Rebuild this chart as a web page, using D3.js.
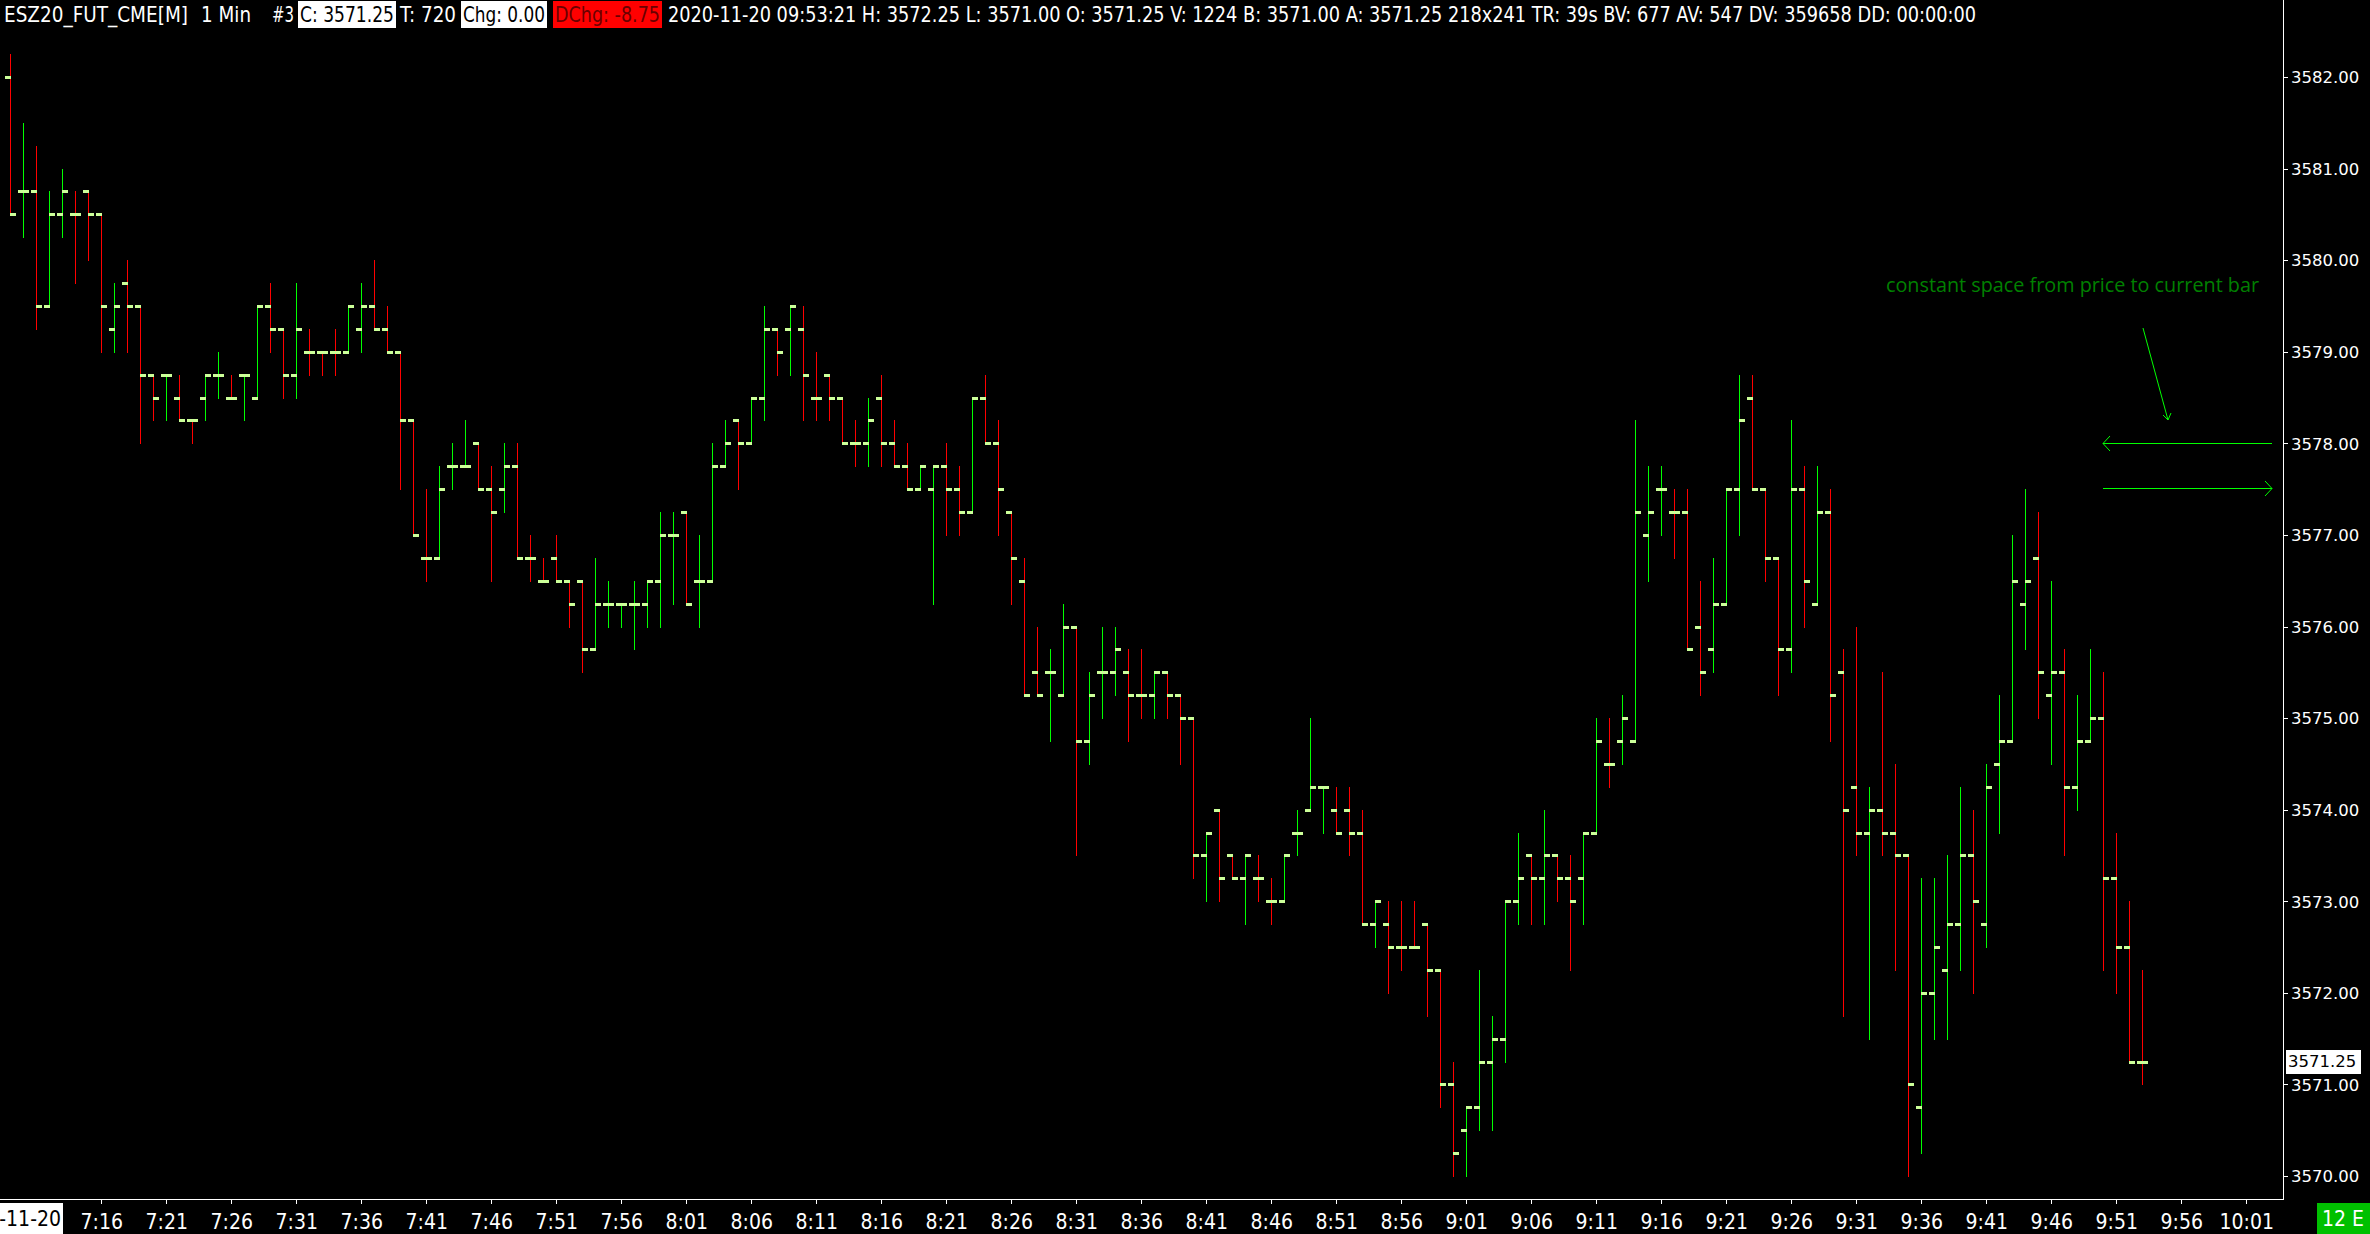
<!DOCTYPE html>
<html><head><meta charset="utf-8">
<script src="https://cdn.jsdelivr.net/npm/d3@7"></script>
<style>
html,body{margin:0;padding:0;background:#000;overflow:hidden}
svg{display:block}
</style></head><body>
<svg id="c" width="2370" height="1234"></svg>
<script>
// ---- data ----
const startTime = "2020-11-20T07:09:00";   // first bar, one bar per minute
const opens = [
3582.00,3580.75,3580.75,3579.50,3580.50,3580.50,3580.75,3580.50,3579.25,3579.75,
3579.50,3578.75,3578.75,3578.50,3578.25,3578.50,3578.75,3578.50,3578.75,3578.50,
3579.50,3579.25,3578.75,3579.00,3579.00,3579.00,3579.00,3579.25,3579.50,3579.25,
3579.00,3578.25,3576.75,3576.75,3577.75,3577.75,3578.00,3577.50,3577.50,3577.75,
3576.75,3576.50,3576.75,3576.50,3576.50,3575.75,3576.25,3576.25,3576.25,3576.25,
3576.50,3577.00,3577.25,3576.50,3576.50,3577.75,3578.25,3578.00,3578.50,3579.25,
3579.25,3579.25,3578.50,3578.75,3578.50,3578.00,3578.00,3578.50,3578.00,3577.75,
3577.50,3577.50,3577.75,3577.50,3577.25,3578.50,3578.00,3577.25,3576.50,3575.50,
3575.50,3575.25,3576.00,3574.75,3575.50,3575.50,3575.50,3575.25,3575.25,3575.50,
3575.25,3575.00,3573.50,3574.00,3573.50,3573.25,3573.25,3573.00,3573.00,3573.75,
3574.00,3574.25,3574.00,3574.00,3573.75,3572.75,3572.75,3572.50,3572.50,3572.75,
3572.25,3571.00,3570.50,3570.75,3571.25,3571.50,3573.00,3573.50,3573.25,3573.50,
3573.25,3573.25,3573.75,3574.50,3574.75,3574.75,3577.00,3577.50,3577.25,3577.25,
3576.00,3575.75,3576.25,3577.50,3578.50,3577.50,3576.75,3575.75,3577.50,3576.25,
3577.25,3575.50,3574.25,3573.75,3574.00,3573.75,3573.50,3570.75,3572.00,3572.25,
3572.75,3573.50,3572.75,3574.50,3574.75,3576.25,3576.75,3575.25,3575.50,3574.25,
3574.75,3575.00,3573.25,3572.50,3571.25];
const highs = [
3582.25,3581.50,3581.25,3580.75,3581.00,3580.75,3580.75,3580.50,3579.75,3580.00,
3579.50,3578.75,3578.75,3578.75,3578.25,3578.75,3579.00,3578.75,3578.75,3579.50,
3579.75,3579.25,3579.75,3579.25,3579.00,3579.25,3579.50,3579.75,3580.00,3579.50,
3579.00,3578.25,3577.50,3577.75,3578.00,3578.25,3578.00,3577.75,3578.00,3578.00,
3577.00,3576.75,3577.00,3576.50,3576.50,3576.75,3576.50,3576.25,3576.50,3576.50,
3577.25,3577.25,3577.25,3577.00,3578.00,3578.25,3578.25,3578.50,3579.50,3579.25,
3579.50,3579.50,3579.00,3578.75,3578.50,3578.25,3578.50,3578.75,3578.25,3578.00,
3577.75,3577.75,3578.00,3577.75,3578.50,3578.75,3578.25,3577.25,3576.75,3576.00,
3575.75,3576.25,3576.00,3575.50,3576.00,3576.00,3575.75,3575.75,3575.50,3575.50,
3575.25,3575.00,3573.75,3574.00,3573.50,3573.50,3573.50,3573.25,3573.50,3574.00,
3575.00,3574.25,3574.25,3574.25,3574.00,3573.00,3573.00,3573.00,3573.00,3572.75,
3572.25,3571.25,3570.75,3572.25,3571.75,3573.00,3573.75,3573.50,3574.00,3573.50,
3573.50,3573.75,3575.00,3575.00,3575.25,3578.25,3577.75,3577.75,3577.50,3577.50,
3576.50,3576.75,3577.50,3578.75,3578.75,3577.50,3576.75,3578.25,3577.75,3577.75,
3577.50,3575.75,3576.00,3574.25,3575.50,3574.50,3573.50,3573.25,3573.25,3573.50,
3574.25,3574.00,3574.50,3575.25,3577.00,3577.50,3577.25,3576.50,3575.75,3575.25,
3575.75,3575.50,3573.75,3573.00,3572.25];
const lows = [
3580.50,3580.25,3579.25,3579.50,3580.25,3579.75,3580.00,3579.00,3579.00,3579.00,
3578.00,3578.25,3578.25,3578.25,3578.00,3578.25,3578.50,3578.50,3578.25,3578.50,
3579.00,3578.50,3578.50,3578.75,3578.75,3578.75,3579.00,3579.00,3579.25,3579.00,
3577.50,3577.00,3576.50,3576.75,3577.50,3577.75,3577.50,3576.50,3577.25,3576.75,
3576.50,3576.50,3576.50,3576.00,3575.50,3575.75,3576.00,3576.00,3575.75,3576.00,
3576.00,3576.25,3576.25,3576.00,3576.50,3577.75,3577.50,3578.00,3578.25,3578.75,
3578.75,3578.25,3578.25,3578.25,3578.00,3577.75,3577.75,3577.75,3577.75,3577.50,
3577.50,3576.25,3577.00,3577.00,3577.25,3578.00,3577.00,3576.25,3575.25,3575.25,
3574.75,3575.25,3573.50,3574.50,3575.00,3575.25,3574.75,3575.00,3575.00,3575.00,
3574.50,3573.25,3573.00,3573.00,3573.25,3572.75,3573.00,3572.75,3573.00,3573.50,
3574.00,3573.75,3573.75,3573.50,3572.75,3572.50,3572.00,3572.25,3572.50,3571.75,
3570.75,3570.00,3570.00,3570.50,3570.50,3571.25,3572.75,3572.75,3572.75,3573.00,
3572.25,3572.75,3573.75,3574.25,3574.50,3574.75,3576.50,3577.00,3576.75,3575.75,
3575.25,3575.50,3576.25,3577.00,3577.50,3576.50,3575.25,3575.50,3576.00,3576.25,
3574.75,3571.75,3573.50,3571.50,3573.50,3572.25,3570.00,3570.25,3571.50,3571.50,
3572.25,3572.00,3572.50,3573.75,3574.75,3575.75,3575.00,3574.50,3573.50,3574.00,
3574.75,3572.25,3572.00,3571.25,3571.00];
const closes = [
3580.50,3580.75,3579.50,3580.50,3580.75,3580.50,3580.50,3579.50,3579.50,3579.50,
3578.75,3578.50,3578.75,3578.25,3578.25,3578.75,3578.75,3578.50,3578.75,3579.50,
3579.25,3578.75,3579.25,3579.00,3579.00,3579.00,3579.50,3579.50,3579.25,3579.00,
3578.25,3577.00,3576.75,3577.50,3577.75,3577.75,3577.50,3577.25,3577.75,3576.75,
3576.75,3576.50,3576.50,3576.25,3575.75,3576.25,3576.25,3576.25,3576.25,3576.50,
3577.00,3577.00,3576.25,3576.50,3577.75,3578.00,3578.00,3578.50,3579.25,3579.00,
3579.50,3578.75,3578.50,3578.50,3578.00,3578.00,3578.25,3578.00,3577.75,3577.50,
3577.75,3577.75,3577.50,3577.25,3578.50,3578.00,3577.50,3576.75,3575.25,3575.25,
3575.50,3576.00,3574.75,3575.25,3575.50,3575.75,3575.25,3575.25,3575.50,3575.25,
3575.00,3573.50,3573.75,3573.25,3573.25,3573.50,3573.25,3573.00,3573.50,3573.75,
3574.25,3574.25,3573.75,3573.75,3572.75,3573.00,3572.50,3572.50,3572.50,3572.25,
3571.00,3570.25,3570.75,3571.25,3571.50,3573.00,3573.25,3573.25,3573.50,3573.25,
3573.00,3573.75,3574.75,3574.50,3575.00,3577.25,3577.25,3577.50,3577.25,3575.75,
3575.50,3576.25,3577.50,3578.25,3577.50,3576.75,3575.75,3577.50,3576.50,3577.25,
3575.25,3574.00,3573.75,3574.00,3573.75,3573.50,3571.00,3572.00,3572.50,3572.75,
3573.50,3573.00,3574.25,3574.75,3576.50,3576.50,3575.50,3575.50,3574.25,3574.75,
3575.00,3573.25,3572.50,3571.25,3571.25];
const priceTicks = [3570,3571,3572,3573,3574,3575,3576,3577,3578,3579,3580,3581,3582];
const timeTickLabels = ["7:16","7:21","7:26","7:31","7:36","7:41","7:46","7:51","7:56",
  "8:01","8:06","8:11","8:16","8:21","8:26","8:31","8:36","8:41","8:46","8:51","8:56",
  "9:01","9:06","9:11","9:16","9:21","9:26","9:31","9:36","9:41","9:46","9:51","9:56","10:01"];
const dateLabelVisible = "-11-20";   // visible part of the date label at the left edge
const lastPrice = 3571.25;
const headerTexts = ["ESZ20_FUT_CME[M]", "1 Min", "#3", "C: 3571.25", "T: 720", "Chg: 0.00", "DChg: -8.75",
  "2020-11-20 09:53:21 H: 3572.25 L: 3571.00 O: 3571.25 V: 1224 B: 3571.00 A: 3571.25 218x241 TR: 39s BV: 677 AV: 547 DV: 359658 DD: 00:00:00"];
const noteText = "constant space from price to current bar";

// ---- layout / styling (positions, not data) ----
const headerLayout = [
  {x:4,   w:184},
  {x:201, w:50},
  {x:272, w:22},
  {x:298, w:98, box:"#ffffff", fg:"#000000"},
  {x:400, w:56},
  {x:461, w:86, box:"#ffffff", fg:"#000000"},
  {x:553, w:109, box:"#ff0000", fg:"#6a0000"},
  {x:668, w:1308}
];
const W = 2370, H = 1234;
const plotRight = 2283, plotBottom = 1199;
const NARROW = "'Liberation Sans Narrow', 'DejaVu Sans Condensed', sans-serif";
const svg = d3.select("#c");
svg.append("rect").attr("width", W).attr("height", H).attr("fill", "#000");

const parse = d3.timeParse("%Y-%m-%dT%H:%M:%S");
const t0 = parse(startTime);
const barTimes = opens.map((_, i) => d3.timeMinute.offset(t0, i));
const tEnd = d3.timeMinute.offset(t0, 172);
const x = d3.scaleTime().domain([t0, tEnd]).range([10.3, 10.3 + 13 * 172]);
const y = d3.scaleLinear().domain([3570, 3582]).range([1176, 77]);

const UP = "#00ff00", DOWN = "#ff0000", TICK = "#ccff99";
// bar colour: close vs open, ties resolved by previous close, then previous colour
const colors = [];
opens.forEach((o, i) => {
  const c = closes[i];
  let col;
  if (c > o) col = UP; else if (c < o) col = DOWN;
  else if (i > 0 && c > closes[i-1]) col = UP;
  else if (i > 0 && c < closes[i-1]) col = DOWN;
  else col = i > 0 ? colors[i-1] : UP;
  colors.push(col);
});

const bars = opens.map((o, i) => ({o, h: highs[i], l: lows[i], c: closes[i], t: barTimes[i], col: colors[i]}));

const plot = svg.append("g");
plot.append("clipPath").attr("id", "clp").append("rect")
  .attr("x", 0).attr("y", 0).attr("width", plotRight).attr("height", plotBottom);
const g = plot.append("g").attr("clip-path", "url(#clp)").attr("shape-rendering", "crispEdges");

const bg = g.selectAll("g.bar").data(bars).join("g").attr("class", "bar");
bg.append("rect")
  .attr("x", d => Math.round(x(d.t)))
  .attr("y", d => Math.round(y(d.h)))
  .attr("width", 1)
  .attr("height", d => Math.max(1, Math.round(y(d.l)) - Math.round(y(d.h)) + 1))
  .attr("fill", d => d.col);
bg.append("rect")
  .attr("x", d => Math.round(x(d.t)) - 5)
  .attr("y", d => Math.round(y(d.o)) - 1)
  .attr("width", 6).attr("height", 3)
  .attr("fill", TICK);
bg.append("rect")
  .attr("x", d => Math.round(x(d.t)))
  .attr("y", d => Math.round(y(d.c)) - 1)
  .attr("width", 6).attr("height", 3)
  .attr("fill", TICK);

// ---- annotations ----
const ann = svg.append("g");
ann.append("text").attr("x", 1886).attr("y", 292)
  .attr("font-family", "'Open Sans', sans-serif").attr("font-size", 19.5)
  .attr("textLength", 373).attr("lengthAdjust", "spacingAndGlyphs")
  .attr("fill", "#008000").text(noteText);
const AC = "#00ff00";
const ln = (x1, y1, x2, y2) => ann.append("line").attr("x1", x1).attr("y1", y1).attr("x2", x2).attr("y2", y2)
  .attr("stroke", AC).attr("stroke-width", 1);
// diagonal arrow
ln(2143, 328, 2168, 420);
ln(2168, 420, 2163, 415); ln(2168, 420, 2171, 413);
// left arrow
ln(2103, 443.5, 2272, 443.5);
ln(2103, 443.5, 2110, 436); ln(2103, 443.5, 2110, 451);
// right arrow
ln(2103, 488.5, 2272, 488.5);
ln(2272, 488.5, 2265, 481); ln(2272, 488.5, 2265, 496);

// ---- axes ----
const axG = svg.append("g").attr("shape-rendering", "crispEdges");
axG.append("line").attr("x1", plotRight + 0.5).attr("x2", plotRight + 0.5).attr("y1", 0).attr("y2", plotBottom + 1)
  .attr("stroke", "#ffffff");
axG.append("line").attr("x1", 0).attr("x2", plotRight + 1).attr("y1", plotBottom + 0.5).attr("y2", plotBottom + 0.5)
  .attr("stroke", "#ffffff");

const yAxis = d3.axisRight(y).tickValues(priceTicks).tickFormat(d3.format(".2f")).tickSize(4).tickPadding(3);
const ya = svg.append("g").attr("transform", `translate(${plotRight + 1},0)`).call(yAxis);
ya.select(".domain").remove();
ya.selectAll("line").attr("stroke", "#ffffff").attr("shape-rendering", "crispEdges");
ya.selectAll("text").attr("fill", "#ffffff").attr("font-family", "'DejaVu Sans', sans-serif")
  .attr("font-size", 16.5).attr("dy", "0.35em");

// last price box
const lp = svg.append("g");
lp.append("rect").attr("x", 2286).attr("y", Math.round(y(lastPrice)) - 12).attr("width", 75).attr("height", 24).attr("fill", "#ffffff");
lp.append("text").attr("x", 2288).attr("y", y(lastPrice)).attr("dy", "0.35em")
  .attr("font-family", "'DejaVu Sans', sans-serif").attr("font-size", 16.5).attr("fill", "#000").text(d3.format(".2f")(lastPrice));

// time axis
const hm = d3.timeParse("%Y-%m-%d %H:%M");
const tickTimes = timeTickLabels.map(s => hm("2020-11-20 " + s));
const xAxis = d3.axisBottom(x).tickValues(tickTimes).tickFormat((d, i) => timeTickLabels[i]).tickSize(4).tickPadding(10);
const xa = svg.append("g").attr("transform", `translate(0,${plotBottom + 1})`).call(xAxis);
xa.select(".domain").remove();
xa.selectAll("line").attr("stroke", "#ffffff").attr("shape-rendering", "crispEdges");
xa.selectAll("text").attr("fill", "#ffffff").attr("font-family", NARROW).attr("font-size", 21);

// date box at left
svg.append("rect").attr("x", 0).attr("y", 1203).attr("width", 63).attr("height", 31).attr("fill", "#ffffff");
svg.append("text").attr("x", 61).attr("y", 1226).attr("text-anchor", "end")
  .attr("font-family", NARROW).attr("font-size", 21)
  .attr("fill", "#000").text(dateLabelVisible);

// 12 E box
svg.append("rect").attr("x", 2317).attr("y", 1203).attr("width", 53).attr("height", 31).attr("fill", "#00c000");
svg.append("text").attr("x", 2343).attr("y", 1226).attr("text-anchor", "middle")
  .attr("font-family", NARROW).attr("font-size", 21)
  .attr("fill", "#ffffff").text("12 E");

// ---- header ----
const hdr = svg.append("g").attr("font-family", NARROW).attr("font-size", 21);
headerTexts.forEach((t, i) => {
  const p = headerLayout[i];
  if (p.box) hdr.append("rect").attr("x", p.x).attr("y", 1).attr("width", p.w).attr("height", 27).attr("fill", p.box);
  const pad = p.box ? 2 : 0;
  hdr.append("text").attr("x", p.x + pad).attr("y", 22).attr("fill", p.fg || "#ffffff")
    .attr("textLength", p.w - 2 * pad).attr("lengthAdjust", "spacingAndGlyphs").text(t);
});
</script>
</body></html>
